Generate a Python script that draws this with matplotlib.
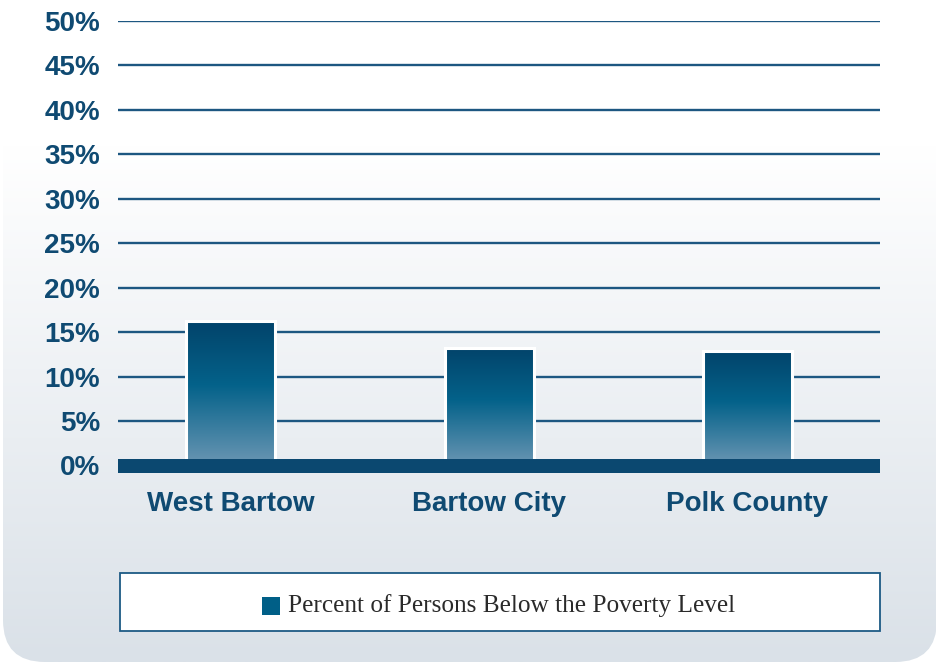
import matplotlib
matplotlib.use("Agg")
import matplotlib.pyplot as plt
import numpy as np
from matplotlib.patches import FancyBboxPatch, Rectangle
from matplotlib.colors import LinearSegmentedColormap
import matplotlib.transforms as mtransforms

# ---- data ----
categories = ["West Bartow", "Bartow City", "Polk County"]
values = [16.3, 13.2, 12.9]
yticks = [0, 5, 10, 15, 20, 25, 30, 35, 40, 45, 50]
ytick_labels = [f"{v}%" for v in yticks]
legend_label = "Percent of Persons Below the Poverty Level"

W, H = 937, 662
fig = plt.figure(figsize=(W / 100, H / 100), dpi=100)
fig.patch.set_facecolor("white")

# ---- background rounded panel with gradient ----
bg = fig.add_axes([0, 0, 1, 1], zorder=-10)
bg.set_xlim(0, W)
bg.set_ylim(H, 0)
bg.axis("off")
grad_cmap = LinearSegmentedColormap.from_list(
    "bg", [(0.0, "#ffffff"), (0.22, "#ffffff"), (1.0, "#dae1e8")])
g = np.linspace(0, 1, 256).reshape(-1, 1)
im = bg.imshow(g, cmap=grad_cmap, extent=[0, W, H, 0], aspect="auto",
               interpolation="bilinear")
panel = FancyBboxPatch((3, -80), W - 3, H + 80,
                       boxstyle="round,pad=0,rounding_size=42",
                       transform=bg.transData, facecolor="none", edgecolor="none")
bg.add_patch(panel)
im.set_clip_path(panel)

# ---- main axes ----
x0, x1 = 118, 880
y_top, y_zero = 21.0, 465.4
ppu = (y_zero - y_top) / 50.0
ymin = -1.0
y_bot = y_zero - ymin * ppu
ax = fig.add_axes([x0 / W, (H - y_bot) / H, (x1 - x0) / W, (y_bot - y_top) / H])
ax.set_facecolor("none")
spacing = 258.35
first = 230.8
xl = (x0 - first) / spacing
xr = (x1 - first) / spacing
ax.set_xlim(xl, xr)
ax.set_ylim(ymin, 50)
for s in ax.spines.values():
    s.set_visible(False)

grid_color = "#1d5781"
for v in yticks[1:]:
    ax.axhline(v, color=grid_color, lw=1.7, zorder=1)
# baseline band
ax.axhspan(-0.82, 0.69, color="#0b4870", zorder=4, lw=0)

bar_cmap = LinearSegmentedColormap.from_list(
    "bar", [(0.0, "#6a96b3"), (0.55, "#04628a"), (1.0, "#02436a")])
xs = np.arange(len(categories))
bw = 0.345
bars = ax.bar(xs, values, width=bw, color="none", edgecolor="white",
              linewidth=2.2, zorder=3)
for b in bars:
    bx, by = b.get_x(), b.get_y()
    bwid, bh = b.get_width(), b.get_height()
    gi = ax.imshow(np.linspace(0, 1, 256).reshape(-1, 1), cmap=bar_cmap,
                   origin="lower", extent=[bx, bx + bwid, 0, bh],
                   aspect="auto", zorder=2, interpolation="bilinear")
    gi.set_clip_path(b)
ax.set_xlim(xl, xr)
ax.set_ylim(ymin, 50)

ax.set_yticks(yticks)
ax.set_yticklabels(ytick_labels, fontfamily="Liberation Sans",
                   fontweight="bold", fontsize=20, color="#0f4a72")
ax.tick_params(axis="y", length=0, pad=13)
ax.set_xticks([])

trans = mtransforms.blended_transform_factory(ax.transData, fig.transFigure)
for i, c in enumerate(categories):
    ax.text(xs[i], (H - 511) / H, c, transform=trans, ha="center",
            va="baseline", fontfamily="Liberation Sans", fontweight="bold",
            fontsize=20, color="#0f4a72")

# ---- legend box ----
lx0, lx1, ly0, ly1 = 120, 880.3, 572.5, 631
fig.patches.append(Rectangle((lx0 / W, (H - ly1) / H), (lx1 - lx0) / W,
                             (ly1 - ly0) / H, transform=fig.transFigure,
                             facecolor="white", edgecolor="#1d5a85", lw=1.3,
                             zorder=5))
fig.patches.append(Rectangle((262 / W, (H - 614.5) / H), 18 / W, 17.5 / H,
                             transform=fig.transFigure, facecolor="#005f87",
                             edgecolor="none", zorder=6))
fig.text(288 / W, (H - 612.3) / H, legend_label, ha="left", va="baseline",
         fontfamily="Liberation Serif", fontsize=18.2, color="#2a2a2a",
         zorder=7)

fig.savefig("out.png", dpi=100, facecolor=fig.get_facecolor())
